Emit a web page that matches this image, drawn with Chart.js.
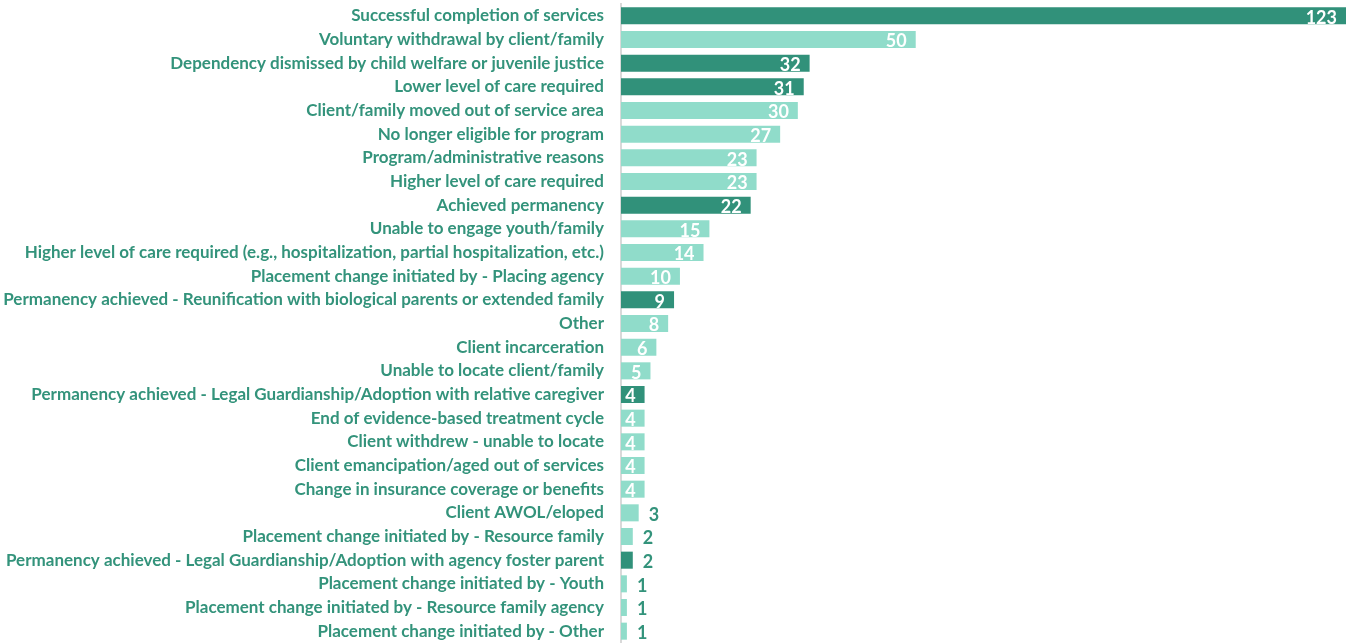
<!DOCTYPE html>
<html>
<head>
<meta charset="utf-8">
<script src="https://cdn.jsdelivr.net/npm/chart.js@4.4.1/dist/chart.umd.min.js"></script>
<style>
  html, body { margin: 0; padding: 0; background: #fff; }
  #wrap { width: 1346px; height: 643px; position: relative; }
</style>
</head>
<body>
<div id="wrap"><canvas id="reasonsChart"></canvas></div>
<script>
const reasons = [
  'Successful completion of services',
  'Voluntary withdrawal by client/family',
  'Dependency dismissed by child welfare or juvenile justice',
  'Lower level of care required',
  'Client/family moved out of service area',
  'No longer eligible for program',
  'Program/administrative reasons',
  'Higher level of care required',
  'Achieved permanency',
  'Unable to engage youth/family',
  'Higher level of care required (e.g., hospitalization, partial hospitalization, etc.)',
  'Placement change initiated by - Placing agency',
  'Permanency achieved - Reunification with biological parents or extended family',
  'Other',
  'Client incarceration',
  'Unable to locate client/family',
  'Permanency achieved - Legal Guardianship/Adoption with relative caregiver',
  'End of evidence-based treatment cycle',
  'Client withdrew - unable to locate',
  'Client emancipation/aged out of services',
  'Change in insurance coverage or benefits',
  'Client AWOL/eloped',
  'Placement change initiated by - Resource family',
  'Permanency achieved - Legal Guardianship/Adoption with agency foster parent',
  'Placement change initiated by - Youth',
  'Placement change initiated by - Resource family agency',
  'Placement change initiated by - Other'
];

const counts = [123, 50, 32, 31, 30, 27, 23, 23, 22, 15, 14, 10, 9, 8, 6, 5, 4, 4, 4, 4, 4, 3, 2, 2, 1, 1, 1];

// positive outcomes are shown in the darker shade
const positiveOutcome = [true, false, true, true, false, false, false, false, true, false, false, false, true,
  false, false, false, true, false, false, false, false, false, false, true, false, false, false];

const DARK = '#31917a';
const LIGHT = '#90dcca';
const TEXT = '#33937b';

// value labels: white inside the bar, teal just past it for the tiny ones
const valueLabels = {
  id: 'valueLabels',
  afterDatasetsDraw(chart) {
    const ctx = chart.ctx;
    const meta = chart.getDatasetMeta(0);
    ctx.save();
    ctx.font = 'bold 18px Lato';
    ctx.textBaseline = 'middle';
    meta.data.forEach((bar, i) => {
      const v = counts[i];
      if (v >= 4) {
        ctx.fillStyle = '#ffffff';
        ctx.textAlign = 'right';
        ctx.fillText(v, bar.x - 9, bar.y + 2);
      } else {
        ctx.fillStyle = TEXT;
        ctx.textAlign = 'left';
        ctx.fillText(v, bar.x + 10, bar.y + 2);
      }
    });
    ctx.restore();
  }
};

new Chart(document.getElementById('reasonsChart'), {
  type: 'bar',
  data: {
    labels: reasons,
    datasets: [{
      data: counts,
      backgroundColor: positiveOutcome.map(p => p ? DARK : LIGHT),
      borderWidth: 0,
      barPercentage: 0.8,
      categoryPercentage: 0.9
    }]
  },
  options: {
    indexAxis: 'y',
    responsive: true,
    maintainAspectRatio: false,
    animation: false,
    layout: { padding: { top: 4, bottom: 0, left: 0, right: 0 } },
    plugins: {
      legend: { display: false },
      tooltip: { enabled: false }
    },
    scales: {
      x: {
        display: false,
        min: 0,
        max: 123
      },
      y: {
        afterFit(scale) {
          scale.width = 621;
          scale.paddingTop = 0;
          scale.paddingBottom = 0;
        },
        grid: { display: false, drawTicks: false },
        border: { display: true, color: '#d9d9d9', width: 2 },
        ticks: {
          color: TEXT,
          font: { family: 'Lato', size: 17, weight: 'bold' },
          padding: 17,
          autoSkip: false
        }
      }
    }
  },
  plugins: [valueLabels]
});
</script>
</body>
</html>
